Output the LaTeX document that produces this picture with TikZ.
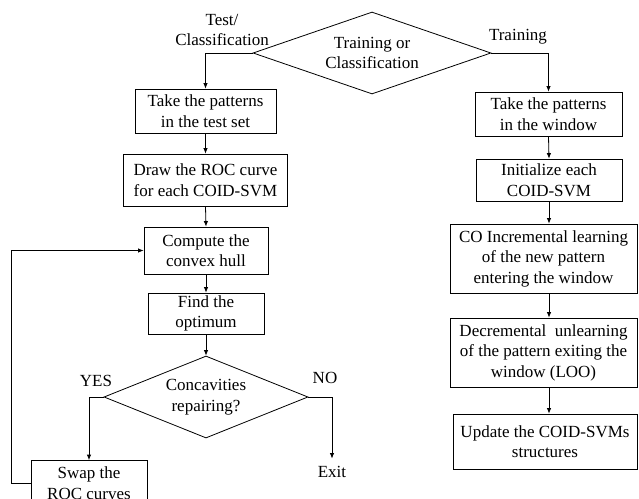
\documentclass[tikz,border=0pt]{standalone}
\usepackage{fontspec}
\setmainfont{Liberation Serif}
\usetikzlibrary{shapes.geometric,arrows.meta}
\begin{document}
\begin{tikzpicture}[x=1pt,y=-1pt,
  every node/.style={font=\fontsize{17}{20.5}\selectfont, align=center},
  box/.style={draw, line width=0.8pt, inner sep=0pt},
  decision/.style={draw, diamond, aspect=2.9, inner sep=0pt, line width=0.8pt},
  flow/.style={draw, line width=0.8pt, -{Latex[length=5.5pt,width=4.5pt]}},
  label/.style={inner sep=0pt}]
\useasboundingbox (0,0) rectangle (639,498);
\clip (0,0) rectangle (639,498);

% top decision
\node[decision, minimum width=238pt, minimum height=82pt] (D1) at (372,53) {Training or\\Classification};
\node[label] (ltest) at (222,30) {Test/\\Classification};
\node[label] (ltrain) at (518,37) {Training};

% classification branch
\node[box, minimum width=141pt, minimum height=44pt] (L1) at (205.5,111) {Take the patterns\\in the test set};
\node[box, minimum width=164pt, minimum height=52pt] (L2) at (205.5,180) {Draw the ROC curve\\for each COID-SVM};
\node[box, minimum width=124pt, minimum height=47pt] (L3) at (206,250.5) {Compute the\\convex hull};
\node[box, minimum width=116pt, minimum height=41pt] (L4) at (206,313.5) {Find the\\optimum};
\node[decision, minimum width=204pt, minimum height=82pt] (D2) at (206,397) {Concavities\\repairing?};
\node[label] (lyes) at (96,381) {YES};
\node[label] (lno) at (325,378) {NO};
\node[box, minimum width=116pt, minimum height=45pt] (L5) at (89,483) {Swap the\\ROC curves};
\node[label, anchor=base] (exit) at (332,477) {Exit};

% training branch
\node[box, minimum width=147pt, minimum height=44pt] (R1) at (548.5,114) {Take the patterns\\in the window};
\node[box, minimum width=146pt, minimum height=42pt] (R2) at (549,180) {Initialize each\\COID-SVM};
\node[box, minimum width=187pt, minimum height=69pt] (R3) at (543.5,258.5) {CO Incremental learning\\of the new pattern\\entering the window};
\node[box, minimum width=187pt, minimum height=69pt] (R4) at (543.5,352.5) {Decremental~ unlearning\\of the pattern exiting the\\window (LOO)};
\node[box, minimum width=184pt, minimum height=55pt] (R5) at (545,441.5) {Update the COID-SVMs\\structures};

% connectors
\draw[flow] (D1.west) -| (L1.north);
\draw[flow] (D1.east) -| (R1.north);
\draw[flow] (L1.south) -- (L2.north);
\draw[flow] (L2.south) -- (L3.north);
\draw[flow] (L3.south) -- (L4.south |- L4.north);
\draw[flow] (L4.south) -- (D2.north);
\draw[flow] (D2.west) -| (L5.north);
\draw[flow] (D2.east) -| ([yshift=7pt]exit.north);
\draw[flow] (L5.west) -- ++(-19,0) |- (L3.west);
\draw[flow] (R1.south) -- (R2.north);
\draw[flow] (R2.south) -- (R2.south |- R3.north);
\draw[flow] (R2.south |- R3.south) -- (R2.south |- R4.north);
\draw[flow] (R2.south |- R4.south) -- (R2.south |- R5.north);
\end{tikzpicture}
\end{document}
